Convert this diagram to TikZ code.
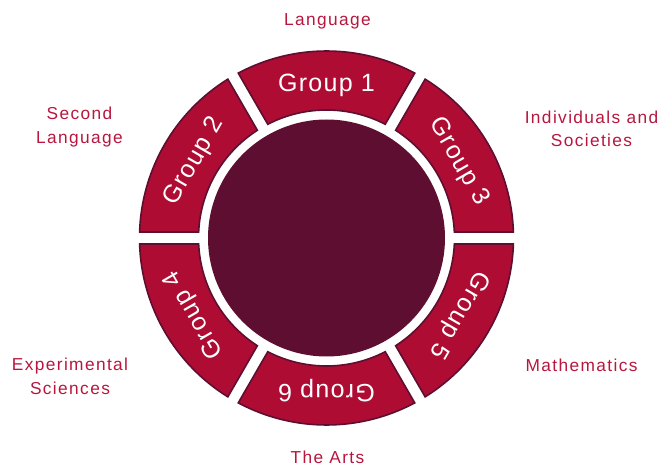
\documentclass[tikz,border=0pt]{standalone}
\usepackage{fontspec}
\setmainfont{Liberation Sans}[LetterSpace=5]
\newfontfamily\labfont{Liberation Sans}[LetterSpace=8]
\definecolor{ibred}{RGB}{174,12,51}
\definecolor{ibdark}{RGB}{94,15,49}
\definecolor{iblabel}{RGB}{184,22,62}
\begin{document}
\begin{tikzpicture}[x=1pt,y=1pt,
  seg/.style={fill=ibred, draw=ibdark, line width=1.6pt, line join=miter},
  grp/.style={text=white, font=\fontsize{25}{28}\selectfont, anchor=base, inner sep=0pt},
  lab/.style={text=iblabel, font=\labfont\fontsize{17.3}{23.5}\selectfont, align=center, inner sep=0pt, anchor=base}]
\useasboundingbox (0,0) rectangle (659,464);
\coordinate (c) at (326.5,226);
\node[circle, fill=ibdark, minimum size=237pt, inner sep=0pt] (core) at (c) {};
\foreach \a/\n in {90/1,30/3,150/2,210/4,270/6,330/5}{
  \draw[seg] ([shift={(\a-30+1.84:187pt)}]c)
     arc[start angle=\a-30+1.84, end angle=\a+30-1.84, radius=187pt]
     -- ([shift={(\a+30-2.69:128pt)}]c)
     arc[start angle=\a+30-2.69, end angle=\a-30+2.69, radius=128pt] -- cycle;
  \node[grp, rotate=\a-90] (g\n) at ([shift={(\a:146.5pt)}]c) {Group \n};
}
\node[lab] (l1) at (327.5,438) {Language};
\node[lab] (l2) at (79.5,320.7) {Second\\Language};
\node[lab] (l3) at (591.5,317.3) {Individuals and\\Societies};
\node[lab] (l4) at (70,69.7) {Experimental\\Sciences};
\node[lab] (l5) at (581.5,92.3) {Mathematics};
\node[lab] (l6) at (327.5,0.8) {The Arts};
\end{tikzpicture}
\end{document}
